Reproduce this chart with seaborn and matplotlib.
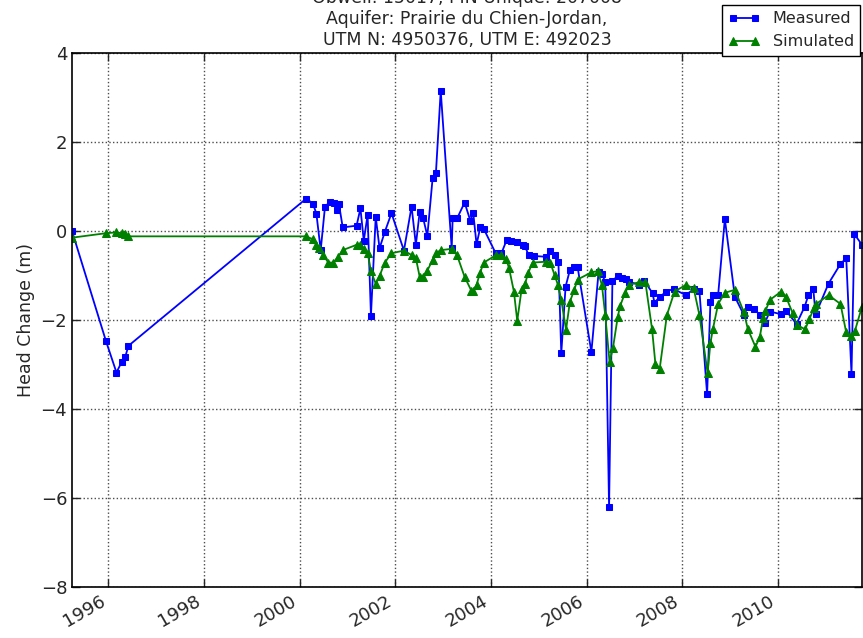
import pandas as pd
import matplotlib
matplotlib.use("Agg")
import matplotlib.pyplot as plt
import matplotlib.dates as mdates
import seaborn as sns

# Observation well hydrograph: measured vs simulated head change
title_lines = [
    "Obwell: 15017, PIN Unique: 207008",
    "Aquifer: Prairie du Chien-Jordan,",
    "UTM N: 4950376, UTM E: 492023",
]

# decimal years
meas_year = [1995.24, 1995.95, 1996.17, 1996.28, 1996.35, 1996.42,
             2000.14, 2000.28, 2000.35, 2000.44, 2000.53, 2000.63, 2000.72, 2000.77,
             2000.82, 2000.90, 2001.19, 2001.27, 2001.34, 2001.42, 2001.49, 2001.59,
             2001.67, 2001.78, 2001.92, 2002.18, 2002.34, 2002.43, 2002.51, 2002.58,
             2002.67, 2002.78, 2002.85, 2002.95, 2003.18, 2003.20, 2003.30, 2003.45,
             2003.57, 2003.63, 2003.70, 2003.78, 2003.85, 2004.10, 2004.22, 2004.33,
             2004.42, 2004.54, 2004.66, 2004.71, 2004.79, 2004.89, 2005.16, 2005.24,
             2005.33, 2005.41, 2005.47, 2005.56, 2005.65, 2005.73, 2005.81, 2006.10,
             2006.25, 2006.32, 2006.39, 2006.47, 2006.54, 2006.65, 2006.74, 2006.82,
             2006.89, 2007.10, 2007.21, 2007.38, 2007.42, 2007.53, 2007.67, 2007.82,
             2008.07, 2008.24, 2008.36, 2008.52, 2008.59, 2008.64, 2008.75, 2008.89,
             2009.10, 2009.29, 2009.37, 2009.51, 2009.62, 2009.73, 2009.83, 2010.07,
             2010.17, 2010.39, 2010.56, 2010.64, 2010.74, 2010.79, 2011.06, 2011.31,
             2011.43, 2011.54, 2011.60, 2011.76]
meas_val = [0.00, -2.47, -3.18, -2.94, -2.84, -2.58,
            0.73, 0.61, 0.39, -0.43, 0.55, 0.65, 0.62, 0.47,
            0.61, 0.08, 0.12, 0.51, -0.22, 0.36, -1.90, 0.32,
            -0.39, -0.02, 0.40, -0.44, 0.55, -0.31, 0.43, 0.30,
            -0.11, 1.18, 1.31, 3.15, -0.39, 0.29, 0.30, 0.64,
            0.23, 0.41, -0.30, 0.09, 0.05, -0.50, -0.50, -0.20,
            -0.22, -0.24, -0.31, -0.34, -0.55, -0.56, -0.58, -0.44,
            -0.54, -0.69, -2.75, -1.25, -0.88, -0.82, -0.80, -2.72,
            -0.93, -0.97, -1.14, -6.20, -1.12, -1.01, -1.05, -1.08,
            -1.14, -1.21, -1.12, -1.40, -1.61, -1.48, -1.36, -1.30,
            -1.44, -1.31, -1.35, -3.67, -1.59, -1.44, -1.44, 0.27,
            -1.48, -1.89, -1.70, -1.75, -1.89, -2.06, -1.81, -1.87,
            -1.79, -2.09, -1.70, -1.44, -1.30, -1.87, -1.18, -0.74,
            -0.61, -3.21, -0.07, -0.31]

sim_year = [1995.24, 1995.95, 1996.17, 1996.28, 1996.35, 1996.42,
            2000.13, 2000.27, 2000.35, 2000.41, 2000.49, 2000.60, 2000.70, 2000.80,
            2000.90, 2001.19, 2001.27, 2001.34, 2001.42, 2001.49, 2001.59, 2001.67,
            2001.78, 2001.92, 2002.18, 2002.34, 2002.43, 2002.51, 2002.58, 2002.67,
            2002.78, 2002.86, 2002.95, 2003.19, 2003.29, 2003.45, 2003.59, 2003.63,
            2003.70, 2003.77, 2003.85, 2004.11, 2004.22, 2004.32, 2004.38, 2004.48,
            2004.55, 2004.64, 2004.71, 2004.78, 2004.87, 2005.15, 2005.24, 2005.33,
            2005.40, 2005.47, 2005.57, 2005.65, 2005.74, 2005.81, 2006.10, 2006.23,
            2006.32, 2006.39, 2006.48, 2006.55, 2006.65, 2006.70, 2006.80, 2006.89,
            2007.10, 2007.23, 2007.37, 2007.44, 2007.53, 2007.68, 2007.84, 2008.08,
            2008.24, 2008.36, 2008.53, 2008.59, 2008.64, 2008.75, 2008.89, 2009.10,
            2009.29, 2009.37, 2009.53, 2009.62, 2009.69, 2009.74, 2009.83, 2010.07,
            2010.17, 2010.31, 2010.40, 2010.57, 2010.66, 2010.75, 2010.80, 2011.06,
            2011.31, 2011.43, 2011.52, 2011.61, 2011.76]
sim_val = [-0.15, -0.05, -0.03, -0.05, -0.07, -0.12,
           -0.12, -0.18, -0.31, -0.39, -0.54, -0.71, -0.71, -0.59,
           -0.43, -0.31, -0.31, -0.40, -0.49, -0.91, -1.18, -1.01,
           -0.71, -0.50, -0.44, -0.54, -0.61, -1.03, -1.03, -0.89,
           -0.65, -0.49, -0.43, -0.40, -0.54, -1.03, -1.34, -1.35,
           -1.21, -0.95, -0.71, -0.54, -0.55, -0.63, -0.84, -1.36,
           -2.02, -1.31, -1.19, -0.94, -0.71, -0.69, -0.71, -0.99,
           -1.21, -1.55, -2.22, -1.59, -1.33, -1.09, -0.93, -0.90,
           -1.21, -1.89, -2.94, -2.64, -1.94, -1.69, -1.40, -1.21,
           -1.15, -1.15, -2.21, -2.99, -3.09, -1.89, -1.36, -1.21,
           -1.29, -1.89, -3.19, -2.51, -2.21, -1.64, -1.39, -1.32,
           -1.83, -2.20, -2.60, -2.39, -1.96, -1.80, -1.55, -1.36,
           -1.48, -1.85, -2.11, -2.21, -1.98, -1.74, -1.64, -1.44,
           -1.64, -2.28, -2.35, -2.25, -1.70]


def to_date(y):
    yr = int(y)
    start = pd.Timestamp(yr, 1, 1)
    end = pd.Timestamp(yr + 1, 1, 1)
    return start + (end - start) * (y - yr)


meas = pd.DataFrame({"date": [to_date(y) for y in meas_year], "head": meas_val})
sim = pd.DataFrame({"date": [to_date(y) for y in sim_year], "head": sim_val})

sns.set_style("white", {
    "axes.edgecolor": "black",
    "xtick.direction": "in",
    "ytick.direction": "in",
    "xtick.bottom": True,
    "ytick.left": True,
})
plt.rcParams["font.family"] = ["DejaVu Sans"]

fig = plt.figure(figsize=(8.63, 6.38), dpi=100)
ax = fig.add_axes([72 / 863, 1 - 587 / 638, (862 - 72) / 863, (587 - 53) / 638])

sns.lineplot(data=meas, x="date", y="head", ax=ax, color="blue", marker="s",
             markersize=4.3, markeredgecolor="blue", linewidth=1.3,
             label="Measured", sort=False)
sns.lineplot(data=sim, x="date", y="head", ax=ax, color="green", marker="^",
             markersize=5.5, markeredgecolor="green", linewidth=1.3,
             label="Simulated", sort=False)

ax.set_xlim(meas["date"].min(), meas["date"].max())
ax.set_ylim(-8, 4)
ax.set_yticks([-8, -6, -4, -2, 0, 2, 4])
ax.xaxis.set_major_locator(mdates.YearLocator(2))
ax.xaxis.set_major_formatter(mdates.DateFormatter("%Y"))
ax.tick_params(axis="both", labelsize=13, length=6, width=1,
               top=True, right=True, direction="in")
plt.setp(ax.get_xticklabels(), rotation=30, ha="right")
ax.grid(True, linestyle=":", color="0.3", linewidth=1)
for s in ax.spines.values():
    s.set_linewidth(1.2)

ax.set_xlabel("")
ax.set_ylabel("Head Change (m)", fontsize=12.5)
ax.set_title("\n".join(title_lines), fontsize=12.5, pad=6)

ax.legend(loc="upper right", bbox_to_anchor=(0.998, 1.09), borderaxespad=0,
          numpoints=2, fancybox=False, framealpha=1, edgecolor="black",
          fontsize=11.5, handlelength=2.0)

fig.savefig("out.png", dpi=100)
